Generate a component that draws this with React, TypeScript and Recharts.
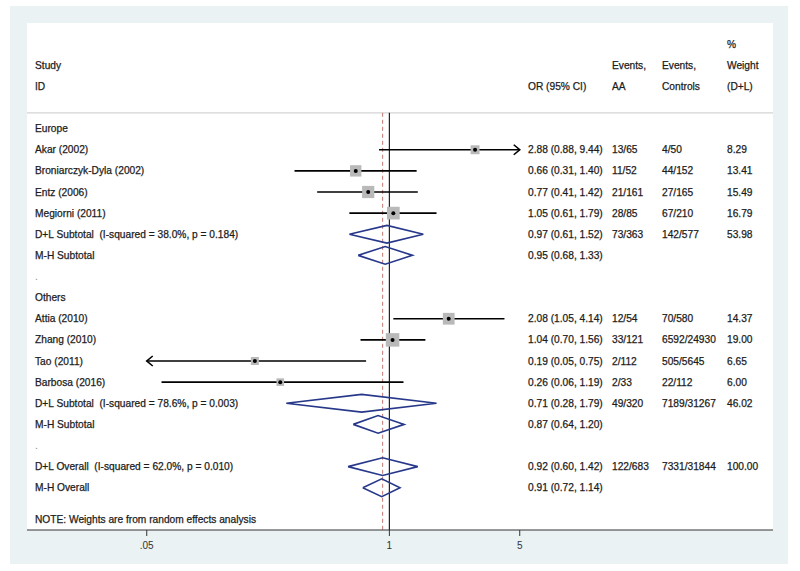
import React from 'react';
import { CartesianGrid, ComposedChart, ReferenceLine, Scatter, XAxis, YAxis } from 'recharts';

// studies
const groups = ['Europe', 'Others'];
const studyNames = ['Akar (2002)', 'Broniarczyk-Dyla (2002)', 'Entz (2006)', 'Megiorni (2011)', 'Attia (2010)', 'Zhang (2010)', 'Tao (2011)', 'Barbosa (2016)'];
const studyGroup = [0, 0, 0, 0, 1, 1, 1, 1];
const studyOR = [2.88, 0.66, 0.77, 1.05, 2.08, 1.04, 0.19, 0.26];
const studyLo = [0.88, 0.31, 0.41, 0.61, 1.05, 0.7, 0.05, 0.06];
const studyHi = [9.44, 1.4, 1.42, 1.79, 4.14, 1.56, 0.75, 1.19];
const studyAA = ['13/65', '11/52', '21/161', '28/85', '12/54', '33/121', '2/112', '2/33'];
const studyCtrl = ['4/50', '44/152', '27/165', '67/210', '70/580', '6592/24930', '505/5645', '22/112'];
const studyWeight = [8.29, 13.41, 15.49, 16.79, 14.37, 19.0, 6.65, 6.0];

// pooled estimates: Europe D+L, Europe M-H, Others D+L, Others M-H, Overall D+L, Overall M-H
const pooledLabels = [
  'D+L Subtotal  (I-squared = 38.0%, p = 0.184)',
  'M-H Subtotal',
  'D+L Subtotal  (I-squared = 78.6%, p = 0.003)',
  'M-H Subtotal',
  'D+L Overall  (I-squared = 62.0%, p = 0.010)',
  'M-H Overall',
];
const pooledOR = [0.97, 0.95, 0.71, 0.87, 0.92, 0.91];
const pooledLo = [0.61, 0.68, 0.28, 0.64, 0.6, 0.72];
const pooledHi = [1.52, 1.33, 1.79, 1.2, 1.42, 1.14];
const pooledAA = ['73/363', '', '49/320', '', '122/683', ''];
const pooledCtrl = ['142/577', '', '7189/31267', '', '7331/31844', ''];
const pooledWeight = ['53.98', '', '46.02', '', '100.00', ''];

const headerLines = [
  ['', '', '', '', '%'],
  ['Study', '', 'Events,', 'Events,', 'Weight'],
  ['ID', 'OR (95% CI)', 'AA', 'Controls', '(D+L)'],
];
const note = 'NOTE: Weights are from random effects analysis';
const xTicks = [0.05, 1, 5];
const overallDL = pooledOR[4];

// axis range (stata style: plot region is wider than the tick range)
const X_MIN = 0.0114;
const X_MAX = 114;
const CLIP_LO = 0.05;
const CLIP_HI = 5;
const COL_X = [8, 501, 585, 635, 700];
const FONT = 'Liberation Sans, Arial, sans-serif';

const fmtCI = (o: number, l: number, h: number) => `${o.toFixed(2)} (${l.toFixed(2)}, ${h.toFixed(2)})`;

type TextRow = { x: number; y: number; cells: string[]; light?: boolean };
const textRows: TextRow[] = [];
const boxes: { x: number; y: number; w: number }[] = [];
const ciLines: { x: number; y: number; arrow: string | null }[][] = [];
const diamonds: { x: number; y: number }[][] = [];

headerLines.forEach((cells, i) => textRows.push({ x: X_MIN, y: i - 4, cells }));

const addPooled = (si: number, row: number) => {
  textRows.push({
    x: X_MIN,
    y: row,
    cells: [pooledLabels[si], fmtCI(pooledOR[si], pooledLo[si], pooledHi[si]), pooledAA[si], pooledCtrl[si], pooledWeight[si]],
  });
  diamonds.push([
    { x: pooledLo[si], y: row },
    { x: pooledOR[si], y: row - 0.42 },
    { x: pooledHi[si], y: row },
    { x: pooledOR[si], y: row + 0.42 },
    { x: pooledLo[si], y: row },
  ]);
};

let row = 0;
groups.forEach((g, gi) => {
  textRows.push({ x: X_MIN, y: row++, cells: [g, '', '', '', ''] });
  studyNames.forEach((name, i) => {
    if (studyGroup[i] !== gi) return;
    textRows.push({
      x: X_MIN,
      y: row,
      cells: [name, fmtCI(studyOR[i], studyLo[i], studyHi[i]), studyAA[i], studyCtrl[i], studyWeight[i].toFixed(2)],
    });
    boxes.push({ x: studyOR[i], y: row, w: studyWeight[i] });
    ciLines.push([
      { x: Math.max(studyLo[i], CLIP_LO), y: row, arrow: studyLo[i] <= CLIP_LO ? 'left' : null },
      { x: Math.min(studyHi[i], CLIP_HI), y: row, arrow: studyHi[i] >= CLIP_HI ? 'right' : null },
    ]);
    row++;
  });
  addPooled(gi * 2, row++);
  addPooled(gi * 2 + 1, row++);
  textRows.push({ x: X_MIN, y: row++, cells: ['.', '', '', '', ''], light: true });
});
addPooled(4, row++);
addPooled(5, row++);
textRows.push({ x: X_MIN, y: row + 0.5, cells: [note, '', '', '', ''] });

const RowText = (props: any) => {
  const { cx, cy, payload } = props;
  return (
    <g>
      {payload.cells.map((c: string, i: number) =>
        c ? (
          <text
            key={i}
            x={cx + COL_X[i]}
            y={cy}
            dominantBaseline="central"
            fontSize={10.2}
            fontFamily={FONT}
            fill={payload.light ? '#888' : '#1c1c1c'}
            stroke={payload.light ? 'none' : '#1c1c1c'}
            strokeWidth={0.25}
            style={{ whiteSpace: 'pre' }}
          >
            {c}
          </text>
        ) : null
      )}
    </g>
  );
};

const StudyBox = (props: any) => {
  const { cx, cy, payload } = props;
  const s = 3.1 * Math.sqrt(payload.w);
  return (
    <g>
      <rect x={cx - s / 2} y={cy - s / 2} width={s} height={s} fill="#b9b9b9" />
      <circle cx={cx} cy={cy} r={2} fill="#000" />
    </g>
  );
};

const CiEnd = (props: any) => {
  const { cx, cy, payload } = props;
  if (!payload.arrow) return <g />;
  const d = payload.arrow === 'right' ? -6 : 6;
  return <path d={`M${cx + d},${cy - 5} L${cx},${cy} L${cx + d},${cy + 5}`} stroke="#000" strokeWidth={1.6} fill="none" />;
};

const Empty = () => <g />;

export default function App() {
  return (
    <div style={{ position: 'absolute', left: 10, top: 6, width: 778, height: 558, background: '#eaf2f3' }}>
      <ComposedChart width={778} height={558} margin={{ top: 17, right: 15, bottom: 4, left: 17 }}>
        <CartesianGrid horizontal={false} vertical={false} fill="#ffffff" />
        <XAxis
          type="number"
          dataKey="x"
          scale="log"
          domain={[X_MIN, X_MAX]}
          allowDataOverflow
          ticks={xTicks}
          tickFormatter={(v: number) => (v < 1 ? String(v).replace(/^0/, '') : String(v))}
          stroke="#333"
          tickSize={6}
          tickMargin={6}
          height={30}
          tick={{ fontSize: 10, fill: '#333', fontFamily: FONT }}
        />
        <YAxis type="number" dataKey="y" domain={[-5, 19]} reversed hide allowDataOverflow />
        <ReferenceLine y={-0.75} stroke="#d4d4d4" strokeWidth={1.2} />
        <ReferenceLine segment={[{ x: overallDL, y: -0.75 }, { x: overallDL, y: 19 }]} stroke="#c47a72" strokeDasharray="4 3" strokeWidth={1} />
        <ReferenceLine segment={[{ x: 1, y: -0.75 }, { x: 1, y: 19 }]} stroke="#222" strokeWidth={1.2} />
        {ciLines.map((pts, i) => (
          <Scatter key={`ci${i}`} data={pts} line={{ stroke: '#000', strokeWidth: 1.6 }} lineType="joint" shape={CiEnd} isAnimationActive={false} />
        ))}
        <Scatter data={boxes} shape={StudyBox} isAnimationActive={false} />
        {diamonds.map((pts, i) => (
          <Scatter key={`dm${i}`} data={pts} line={{ stroke: '#27388a', strokeWidth: 1.6 }} lineType="joint" shape={Empty} isAnimationActive={false} />
        ))}
        <Scatter data={textRows} shape={RowText} isAnimationActive={false} />
      </ComposedChart>
    </div>
  );
}
